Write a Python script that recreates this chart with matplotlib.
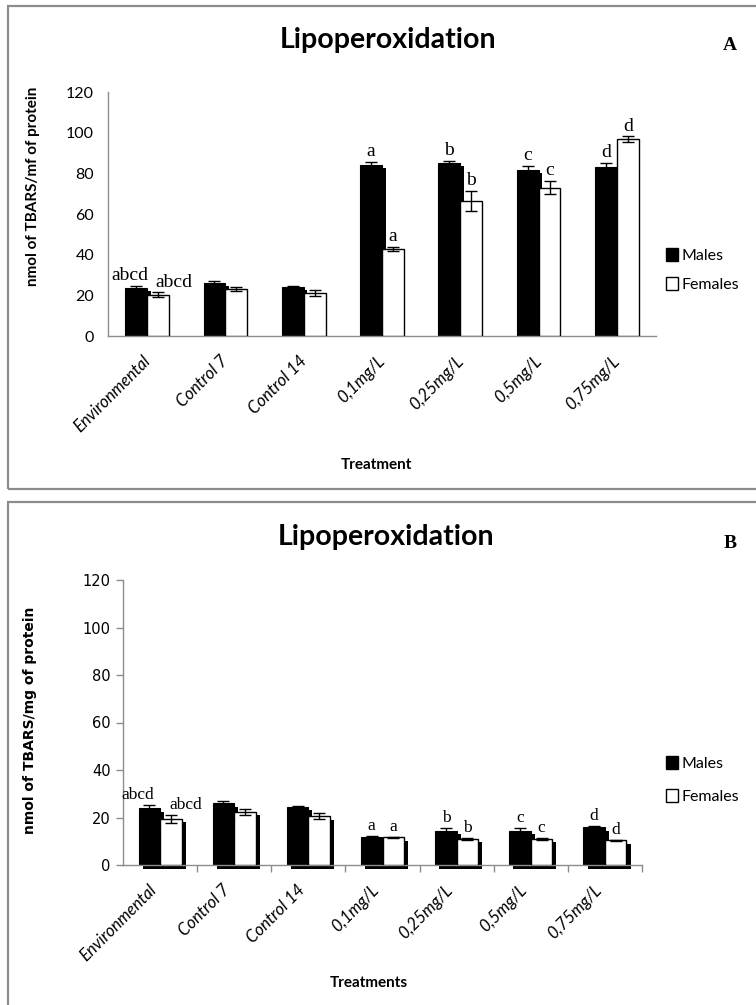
import matplotlib
matplotlib.use("Agg")
import matplotlib.pyplot as plt
from matplotlib.patches import Rectangle, Patch
import numpy as np

categories = ["Environmental", "Control 7", "Control 14", "0,1mg/L", "0,25mg/L", "0,5mg/L", "0,75mg/L"]

# Panel A
a_males = [23.4, 26.2, 24.3, 84.1, 85.0, 81.7, 83.3]
a_males_err = [1.4, 0.9, 0.4, 1.5, 1.3, 2.0, 2.0]
a_females = [20.2, 23.1, 21.0, 42.8, 66.4, 73.0, 96.7]
a_females_err = [1.2, 1.0, 1.5, 1.1, 5.0, 3.3, 1.5]
a_m_letters = ["abcd", "", "", "a", "b", "c", "d"]
a_f_letters = ["abcd", "", "", "a", "b", "c", "d"]

# Panel B
b_males = [23.9, 26.0, 24.6, 11.9, 14.5, 14.5, 15.9]
b_males_err = [1.4, 0.9, 0.4, 0.4, 1.0, 1.0, 0.7]
b_females = [19.4, 22.4, 20.6, 11.7, 11.0, 11.0, 10.5]
b_females_err = [1.7, 1.2, 1.4, 0.3, 0.3, 0.3, 0.2]
b_m_letters = ["abcd", "", "", "a", "b", "c", "d"]
b_f_letters = ["abcd", "", "", "a", "b", "c", "d"]

yticks = [0, 20, 40, 60, 80, 100, 120]

W, H = 756, 1005
fig = plt.figure(figsize=(W / 100, H / 100), dpi=100)

def fx(px):
    return px / W

def fy(py):
    return 1 - py / H

# panel frames
for (x0, y0, x1, y1) in [(8, 6, 770, 489), (8, 502, 770, 1020)]:
    fig.patches.append(Rectangle((fx(x0), fy(y1)), fx(x1 - x0), (y1 - y0) / H,
                                 transform=fig.transFigure, fill=False,
                                 edgecolor="#8c8c8c", linewidth=1.6, clip_on=False))

GRAY = "#8c8c8c"
SERIF = "Liberation Serif"

def panel(rect, males, m_err, females, f_err, m_let, f_let, bw, sdx, sdy, female_shadow,
          below, tickfont, ticksize, ypad, show_ticks, letter_size, env_shift, label_shift):
    left, top, right, bottom = rect
    ax = fig.add_axes([fx(left), fy(bottom), fx(right - left), (bottom - top) / H])
    x = np.arange(len(categories)) + 0.5
    xm = x - bw / 2
    xf = x + bw / 2
    sb = -sdy if below else 0
    # bar shadows
    ax.bar(xm + sdx, np.array(males) - sdy - sb, bw, bottom=sb, color="black",
           linewidth=0, zorder=1, clip_on=False)
    if female_shadow:
        ax.bar(xf + sdx, np.array(females) - sdy - sb, bw, bottom=sb, color="black",
               linewidth=0, zorder=1, clip_on=False)
    ax.bar(xm, males, bw, color="black", edgecolor="black", linewidth=0.8, zorder=2)
    ax.bar(xf, females, bw, color="white", edgecolor="black", linewidth=1.0, zorder=3)
    ax.errorbar(xm, males, yerr=m_err, fmt="none", ecolor="black", elinewidth=1.0,
                capsize=4, capthick=1.0, zorder=4)
    ax.errorbar(xf, females, yerr=f_err, fmt="none", ecolor="black", elinewidth=1.0,
                capsize=4, capthick=1.0, zorder=4)
    for i in range(len(categories)):
        if m_let[i]:
            sx = env_shift[0] if i == 0 else 0
            ax.text(xm[i] + sx, males[i] + m_err[i] + 0.8, m_let[i], ha="center",
                    va="bottom", fontsize=letter_size, family=SERIF, zorder=5)
        if f_let[i]:
            sx = env_shift[1] if i == 0 else 0
            ax.text(xf[i] + sx, females[i] + f_err[i] + 0.8, f_let[i], ha="center",
                    va="bottom", fontsize=letter_size, family=SERIF, zorder=5)
    ax.set_xlim(0, len(categories))
    ax.set_ylim(0, 120)
    ax.set_yticks(yticks)
    ax.set_yticklabels([str(v) for v in yticks], family=tickfont, fontsize=ticksize)
    ax.set_xticks(x + label_shift)
    ax.set_xticklabels(categories, rotation=45, ha="right", rotation_mode="anchor",
                       family="Lato", style="italic", fontsize=12)
    for s in ["top", "right"]:
        ax.spines[s].set_visible(False)
    for s in ["left", "bottom"]:
        ax.spines[s].set_color(GRAY)
        ax.spines[s].set_linewidth(1.0)
    if show_ticks:
        ax.tick_params(axis="y", length=5, color=GRAY, width=1.0, pad=ypad)
        ax.set_xticks(np.arange(1, len(categories) + 1), minor=True)
        ax.tick_params(axis="x", which="major", length=0, pad=12)
        ax.tick_params(axis="x", which="minor", length=5, color=GRAY, width=1.0)
    else:
        ax.tick_params(axis="y", length=0, pad=ypad)
        ax.tick_params(axis="x", length=0, pad=12)
    ax.patch.set_alpha(0)
    return ax

axA = panel((108, 92, 656, 336), a_males, a_males_err, a_females, a_females_err,
            a_m_letters, a_f_letters, 0.28, 0.045, 1.5, False, False, "Lato", 11.5, 10,
            False, 14, (-0.08, 0.2), -0.065)
axB = panel((123, 580, 642, 865), b_males, b_males_err, b_females, b_females_err,
            b_m_letters, b_f_letters, 0.29, 0.055, 1.5, True, True, "DejaVu Sans", 10.5, 4,
            True, 12.5, (-0.16, 0.2), -0.16)

# titles
fig.text(fx(388), fy(40), "Lipoperoxidation", ha="center", va="center",
         family="Lato", weight="bold", fontsize=20.5)
fig.text(fx(386), fy(537), "Lipoperoxidation", ha="center", va="center",
         family="Lato", weight="bold", fontsize=20.5)
fig.text(fx(730), fy(45), "A", ha="center", va="center", family=SERIF,
         weight="bold", fontsize=14)
fig.text(fx(730), fy(543), "B", ha="center", va="center", family=SERIF,
         weight="bold", fontsize=14)

# axis labels
fig.text(fx(33), fy(186), "nmol of TBARS/mf of protein", rotation=90, ha="center",
         va="center", family="Lato", weight="bold", fontsize=11)
fig.text(fx(30), fy(720), "nmol of TBARS/mg of protein", rotation=90, ha="center",
         va="center", family="DejaVu Sans", weight="bold", fontsize=10)
fig.text(fx(376), fy(465), "Treatment", ha="center", va="center",
         family="Lato", weight="bold", fontsize=11)
fig.text(fx(369), fy(983), "Treatments", ha="center", va="center",
         family="Lato", weight="bold", fontsize=11)

# legends
handles = [Patch(facecolor="black", edgecolor="black", label="Males"),
           Patch(facecolor="white", edgecolor="black", label="Females")]
for ax, ytop, spacing in [(axA, 248, 0.85), (axB, 756, 1.1)]:
    ax.legend(handles=handles, loc="upper left", bbox_to_anchor=(fx(666), fy(ytop)),
              bbox_transform=fig.transFigure, frameon=False, handlelength=0.75,
              handleheight=0.9, handletextpad=0.2, labelspacing=spacing,
              prop={"family": "Lato", "size": 11.5}, borderaxespad=0, borderpad=0)

fig.savefig("out.png", dpi=100, facecolor="white")
